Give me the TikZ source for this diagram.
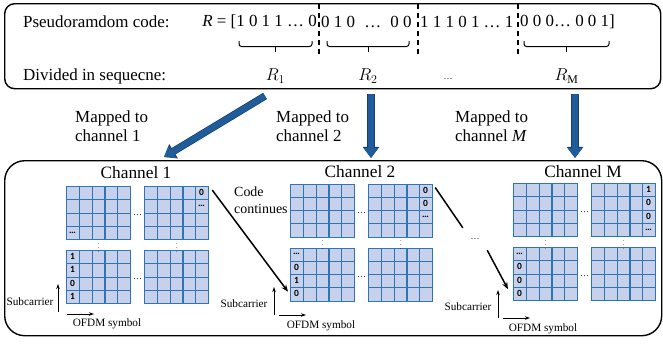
\documentclass[tikz,border=0pt]{standalone}
\usepackage{fontspec}
\setmainfont{Liberation Serif}
\newfontfamily\cellfont{Carlito}
\definecolor{gridBlue}{HTML}{2E75B6}
\definecolor{gridFill}{HTML}{C8D1EC}
\definecolor{mapBlue}{HTML}{1F5C99}
\definecolor{mapEdge}{HTML}{173F69}
\usetikzlibrary{arrows.meta, positioning, calc}
\newcommand{\fsz}[2]{\fontsize{#1}{#2}\selectfont}

\tikzset{
  panel/.style={draw, line width=1.4bp, inner sep=0pt, anchor=north west},
  gridbox/.style={draw=gridBlue, line width=1.2bp, fill=gridFill, inner sep=0pt,
    minimum width=64bp, minimum height=53bp, anchor=north west,
    path picture={
      \foreach \k in {1,2,3,4}
        \draw[gridBlue, line width=1.2bp]
          ($(path picture bounding box.north west)!\k/5!(path picture bounding box.north east)$) --
          ($(path picture bounding box.south west)!\k/5!(path picture bounding box.south east)$);
      \foreach \k in {1,2,3}
        \draw[gridBlue, line width=1.2bp]
          ($(path picture bounding box.north west)!\k/4!(path picture bounding box.south west)$) --
          ($(path picture bounding box.north east)!\k/4!(path picture bounding box.south east)$);
    }},
  cellbit/.style={font=\cellfont\bfseries\fsz{9.5}{10}, inner sep=0pt},
  dots/.style={font=\fsz{9}{9}, inner sep=1pt},
  vdots/.style={font=\fsz{6}{6}, inner sep=0pt},
  codetxt/.style={font=\fsz{17}{19}, inner sep=0pt},
  maptxt/.style={font=\fsz{17}{18.5}, align=left, anchor=west, inner sep=0pt},
  chtitle/.style={font=\fsz{17.4}{19}, inner sep=0pt},
  axistxt/.style={font=\fsz{11.3}{12}, inner sep=0pt},
  splitline/.style={line width=1.2bp, dash pattern=on 5bp off 4bp},
  seqbrace/.style={line width=1bp, rounded corners=2.5bp},
  bigarrow/.style={draw=mapBlue, line width=6bp, -{Triangle[width=14bp, length=10bp]},
    preaction={draw=mapEdge, line width=7.4bp, -{Triangle[width=16bp, length=11.2bp]}}},
  flowline/.style={line width=1.5bp},
  flowarrow/.style={line width=1.5bp, -{Stealth[length=7bp, width=5.5bp]}},
  axisarrow/.style={line width=1bp, -{Stealth[length=5bp, width=3.5bp]}}
}

\begin{document}
\begin{tikzpicture}[x=1bp, y=-1bp]
  \useasboundingbox (0,0) rectangle (663,344);

  % code panel
  \node[panel, rounded corners=10bp, minimum width=656bp, minimum height=85bp] (codebox) at (4,3) {};
  \node[codetxt, anchor=west] (codelbl) at (23,22) {Pseudoramdom code:};
  \node[codetxt, anchor=east] (seg1) at (317,22) {\textit{R} = [1 0 1 1 … 0};
  \node[codetxt, anchor=west] (seg2) at (321,22) {0 1 0\hspace{5bp} … \hspace{5bp}0 0};
  \node[codetxt, anchor=west] (seg3) at (420,22) {1 1 1 0 1 … 1};
  \node[codetxt, anchor=west] (seg4) at (520,22) {0 0 0… 0 0 1]};
  \foreach \x in {319,418,518}
    \draw[splitline] (\x,4) -- (\x,55);
  \node[codetxt, anchor=west] (divlbl) at (23,76) {Divided in sequecne:};
  \foreach \a/\b/\lbl [count=\i] in {239/312/{$R_1$}, 327/409/{$R_2$}, 524/609/{$R_{\mathrm{M}}$}}{
    \draw[seqbrace] (\a,41) |- (\b,46.5) -- (\b,41);
    \draw[seqbrace] ({(\a+\b)/2},46.5) -- ({(\a+\b)/2},52);
    \node[codetxt] (r\i) at ({(\a+\b)/2},76) {\lbl};
  }
  \node[dots] (rdots) at (448,79) {…};

  % mapping arrows
  \coordinate (m1s) at (265,96);  \coordinate (m1e) at (164,157);
  \coordinate (m2s) at (371,94);  \coordinate (m2e) at (371,158);
  \coordinate (m3s) at (575,94);  \coordinate (m3e) at (575,158);
  \draw[bigarrow] (m1s) -- (m1e);
  \draw[bigarrow] (m2s) -- (m2e);
  \draw[bigarrow] (m3s) -- (m3e);
  \node[maptxt] (map1lbl) at (75,126) {Mapped to\\channel 1};
  \node[maptxt] (map2lbl) at (276,126) {Mapped to\\channel 2};
  \node[maptxt] (map3lbl) at (455,126) {Mapped to\\channel \textit{M}};

  % channel panel
  \node[panel, rounded corners=20bp, minimum width=657bp, minimum height=175bp] (chanbox) at (4,160) {};
  \foreach \n/\gx/\gy/\ty/\name in {1/66/186/173/Channel 1, 2/290/183.5/172/Channel 2, 3/513/183/172/Channel M}{
    \node[gridbox] (g\n-a) at (\gx,\gy) {};
    \node[gridbox] (g\n-b) at (\gx+78,\gy) {};
    \node[gridbox] (g\n-c) at (\gx,\gy+64) {};
    \node[gridbox] (g\n-d) at (\gx+78,\gy+64) {};
    \node[chtitle] (title\n) at (\gx+70,\ty) {\name};
    \node[dots] (hdots\n-t) at ($(g\n-a.east)!0.5!(g\n-b.west)+(0,2)$) {…};
    \node[dots] (hdots\n-b) at ($(g\n-c.east)!0.5!(g\n-d.west)+(0,2)$) {…};
    \node[vdots] (vdots\n-l) at ($(g\n-a.south)!0.5!(g\n-c.north)$) {$\vdots$};
    \node[vdots] (vdots\n-r) at ($(g\n-b.south)!0.5!(g\n-d.north)$) {$\vdots$};
  }

  % code bits in the cells
  \node[cellbit] (g1-a-41) at ($(g1-a.north west)+(6.4,46.4)$) {…};
  \foreach \t [count=\r] in {0,…}
    \node[cellbit] (g1-b-\r) at ($(g1-b.north west)+(57.6,{(\r-0.5)*13.25})$) {\t};
  \foreach \t [count=\r] in {1,1,0,1}
    \node[cellbit] (g1-c-\r) at ($(g1-c.north west)+(6.4,{(\r-0.5)*13.25})$) {\t};
  \foreach \t [count=\r] in {0,0,…}
    \node[cellbit] (g2-b-\r) at ($(g2-b.north west)+(57.6,{(\r-0.5)*13.25})$) {\t};
  \foreach \t [count=\r] in {…,0,1,0}
    \node[cellbit] (g2-c-\r) at ($(g2-c.north west)+(6.4,{(\r-0.5)*13.25})$) {\t};
  \foreach \t [count=\r] in {1,0,0,…}
    \node[cellbit] (g3-b-\r) at ($(g3-b.north west)+(57.6,{(\r-0.5)*13.25})$) {\t};
  \foreach \t [count=\r] in {…,0,0,0}
    \node[cellbit] (g3-c-\r) at ($(g3-c.north west)+(6.4,{(\r-0.5)*13.25})$) {\t};

  % axes
  \foreach \ax/\ay/\bx/\by/\sx/\sy/\ox/\oy [count=\k] in
      {58/312/67/314/30/302/107/324, 274/315/279/315/244/304/321/326, 498/318/503/318/468/307/543/329}{
    \node[axistxt] (sub\k) at (\sx,\sy) {Subcarrier};
    \node[axistxt] (ofdm\k) at (\ox,\oy) {OFDM symbol};
    \draw[axisarrow] (\ax,\ay) -- ++(0,-28);
    \draw[axisarrow] (\bx,\by) -- ++(27,0);
  }

  % code continues across channels
  \node[font=\fsz{14}{17}, align=left, anchor=west, inner sep=0pt] (contlbl) at (234,200.5) {Code\\continues};
  \coordinate (c1s) at ($(g1-b.north east)+(3,4)$);
  \coordinate (c1e) at ($(g2-c.south west)+(-2,-10)$);
  \draw[flowarrow] (c1s) -- (c1e);
  \node[dots, minimum width=24bp, minimum height=22bp] (skipdots) at (475,239) {…};
  \coordinate (c2s) at ($(g2-b.north east)+(2,4)$);
  \coordinate (c3e) at ($(g3-c.south west)+(-5,-12)$);
  \draw[flowline] (c2s) -- (skipdots.north west);
  \draw[flowarrow] (skipdots.south east) -- (c3e);
\end{tikzpicture}
\end{document}
